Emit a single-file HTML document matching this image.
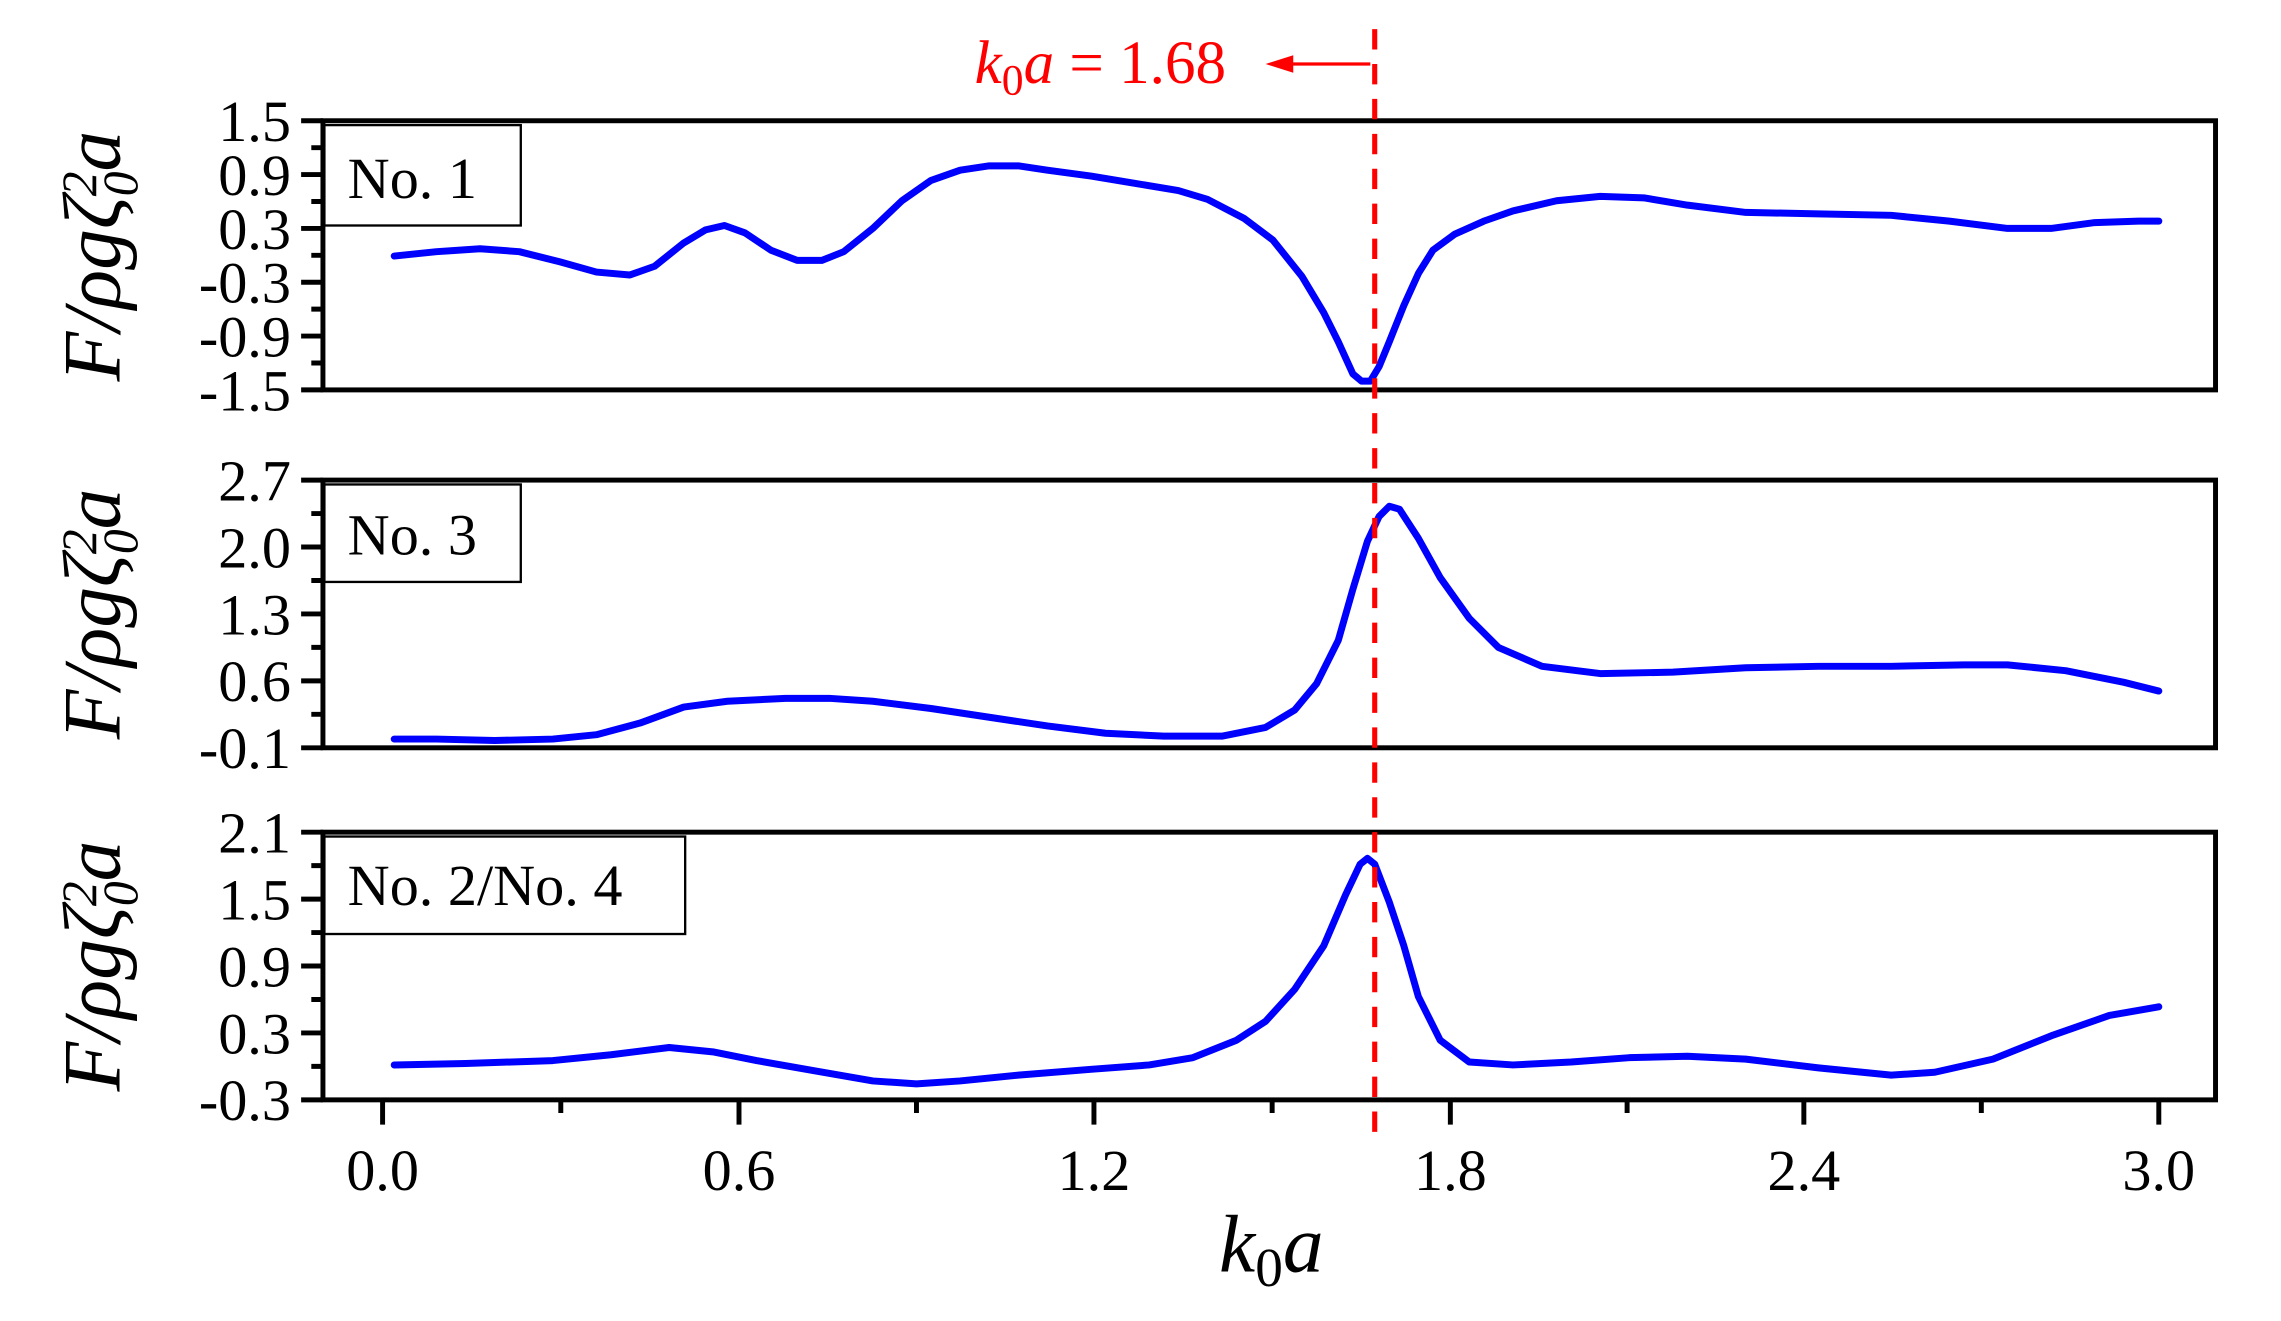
<!DOCTYPE html>
<html><head><meta charset="utf-8"><style>
html,body{margin:0;padding:0;background:#fff;}
svg{display:block;}
text{font-family:"Liberation Serif",serif;fill:#000;}
</style></head><body>
<svg width="2281" height="1321" viewBox="0 0 1568 908" preserveAspectRatio="none" xmlns="http://www.w3.org/2000/svg">
<g fill="none" stroke="#000" stroke-width="3.4">
<rect x="222" y="83" width="1301" height="185"/>
<rect x="222" y="330" width="1301" height="184"/>
<rect x="222" y="572" width="1301" height="184"/>
<path d="M207 83H222M207 120H222M207 157H222M207 194H222M207 231H222M207 268H222M214 101.5H222M214 138.5H222M214 175.5H222M214 212.5H222M214 249.5H222"/>
<path d="M207 330H222M207 376H222M207 422H222M207 468H222M207 514H222M214 353H222M214 399H222M214 445H222M214 491H222"/>
<path d="M207 572H222M207 618H222M207 664H222M207 710H222M207 756H222M214 595H222M214 641H222M214 687H222M214 733H222"/>
<path d="M263 756V773M508 756V773M752 756V773M997 756V773M1240 756V773M1484 756V773M385.5 756V765M630 756V765M874.5 756V765M1118.5 756V765M1362 756V765"/>
</g>
<g fill="#fff" stroke="#000" stroke-width="1.6">
<rect x="223" y="86" width="135" height="69"/>
<rect x="223" y="333" width="135" height="67"/>
<rect x="223" y="575" width="248" height="67"/>
</g>
<g font-size="40">
<text x="239" y="136">No. 1</text>
<text x="239" y="381">No. 3</text>
<text x="239" y="622">No. 2/No. 4</text>
</g>
<g font-size="40" text-anchor="end">
<text x="200" y="97">1.5</text><text x="200" y="134">0.9</text><text x="200" y="171">0.3</text><text x="200" y="208">-0.3</text><text x="200" y="245">-0.9</text><text x="200" y="282">-1.5</text>
<text x="200" y="344">2.7</text><text x="200" y="390">2.0</text><text x="200" y="436">1.3</text><text x="200" y="482">0.6</text><text x="200" y="528">-0.1</text>
<text x="200" y="586">2.1</text><text x="200" y="632">1.5</text><text x="200" y="678">0.9</text><text x="200" y="724">0.3</text><text x="200" y="770">-0.3</text>
</g>
<g font-size="40" text-anchor="middle">
<text x="263" y="818">0.0</text><text x="508" y="818">0.6</text><text x="752" y="818">1.2</text><text x="997" y="818">1.8</text><text x="1240" y="818">2.4</text><text x="1484" y="818">3.0</text>
</g>
<text x="838" y="874" font-size="56" font-style="italic">k<tspan font-style="normal" font-size="38" dy="10">0</tspan><tspan dy="-10">a</tspan></text>
<g font-size="56" font-style="italic" text-anchor="middle">
<text transform="translate(82,176) rotate(-90)">F/ρgζ<tspan font-size="34" dy="12">0</tspan><tspan font-size="34" dy="-28" dx="-17">2</tspan><tspan dy="16">a</tspan></text>
<text transform="translate(82,422) rotate(-90)">F/ρgζ<tspan font-size="34" dy="12">0</tspan><tspan font-size="34" dy="-28" dx="-17">2</tspan><tspan dy="16">a</tspan></text>
<text transform="translate(82,664) rotate(-90)">F/ρgζ<tspan font-size="34" dy="12">0</tspan><tspan font-size="34" dy="-28" dx="-17">2</tspan><tspan dy="16">a</tspan></text>
</g>
<g fill="none" stroke="#0000ff" stroke-width="4.8" stroke-linejoin="round" stroke-linecap="round">
<polyline points="271,176 300,173 330,171 357,173 385,180 410,187 433,189 450,183 470,167 485,158 498,155 512,160 530,172 548,179 565,179 580,173 600,157 620,138 640,124 660,117 680,114 700,114 720,117 750,121 780,126 810,131 830,137 855,150 875,165 895,190 910,215 920,235 930,257 936,262 942,262 948,252 955,235 965,210 975,188 985,172 1000,161 1020,152 1040,145 1070,138 1100,135 1130,136 1160,141 1200,146 1250,147 1300,148 1340,152 1380,157 1410,157 1440,153 1470,152 1484,152"/>
<polyline points="271,508 300,508 340,509 380,508 410,505 440,497 470,486 500,482 540,480 570,480 600,482 640,487 680,493 720,499 760,504 800,506 840,506 870,500 890,488 905,470 920,440 930,405 940,372 948,355 955,348 962,350 975,370 990,397 1010,425 1030,445 1060,458 1100,463 1150,462 1200,459 1250,458 1300,458 1350,457 1380,457 1420,461 1460,469 1484,475"/>
<polyline points="271,732 320,731 380,729 420,725 460,720 490,723 520,729 560,736 600,743 630,745 660,743 700,739 750,735 790,732 820,727 850,715 870,702 890,680 910,650 925,615 935,594 940,590 945,594 955,620 965,650 975,685 990,715 1010,730 1040,732 1080,730 1120,727 1160,726 1200,728 1250,734 1300,739 1330,737 1370,728 1410,712 1450,698 1484,692"/>
</g>
<line x1="945" y1="20" x2="945" y2="778" stroke="#ff0000" stroke-width="3.5" stroke-dasharray="14,10"/>
<line x1="942" y1="44" x2="880" y2="44" stroke="#ff0000" stroke-width="2.2"/>
<path d="M870 44L889 38L889 50Z" fill="#ff0000"/>
<text x="670" y="57" font-size="42" style="fill:#ff0000"><tspan font-style="italic">k</tspan><tspan font-size="30" dy="8">0</tspan><tspan font-style="italic" dy="-8">a</tspan> = 1.68</text>
</svg>
</body></html>
